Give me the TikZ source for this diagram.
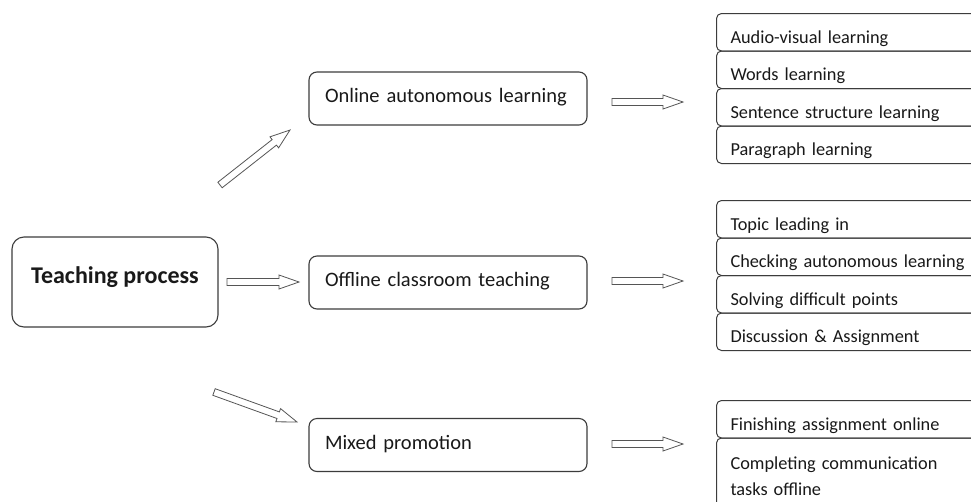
\documentclass[tikz,border=0pt]{standalone}
\usepackage{fontspec}
\setmainfont{Carlito}
\usetikzlibrary{calc}
\definecolor{boxline}{RGB}{60,60,60}
\definecolor{textcol}{RGB}{25,25,25}
\definecolor{arrowgray}{RGB}{85,85,85}
\newcommand{\blockarrow}[2]{%
  \coordinate (bah) at ($(#2)!20pt!(#1)$);
  \draw[arrowline] ($(#1)!3.5pt!90:(#2)$) -- ($(bah)!3.5pt!90:(#2)$) -- ($(bah)!7pt!90:(#2)$) -- (#2)
    -- ($(bah)!7pt!-90:(#2)$) -- ($(bah)!3.5pt!-90:(#2)$) -- ($(#1)!3.5pt!-90:(#2)$) -- cycle;}
\begin{document}
\begin{tikzpicture}[x=1pt,y=-1pt,
  mainbox/.style={draw=boxline, line width=1.1pt, rounded corners=12pt,
    minimum width=206pt, minimum height=90pt, inner sep=0pt,
    font=\fontsize{24}{29}\selectfont\bfseries, text=textcol,
    text height=13pt, text depth=11pt},
  midbox/.style={draw=boxline, line width=1.1pt, rounded corners=8pt,
    minimum width=278pt, minimum height=53pt, inner xsep=16pt, inner ysep=0pt,
    text width=246pt, align=left, font=\fontsize{20.5}{25}\selectfont, text=textcol,
    text height=14pt, text depth=6pt},
  rbase/.style={draw=boxline, line width=1pt, rounded corners=5pt, anchor=north west,
    minimum width=300pt, inner xsep=14pt, text width=272pt, align=left,
    font=\fontsize{18.3}{25.5}\selectfont, text=textcol},
  rightbox/.style={rbase, minimum height=37.5pt, inner ysep=0pt,
    text height=21.5pt, text depth=0pt},
  rightbox2/.style={rbase, inner ysep=19pt},
  arrowline/.style={draw=arrowgray, fill=white, line width=0.8pt, line join=miter}]
\useasboundingbox (0,0) rectangle (971,501);
\clip (0,0) rectangle (971,501);
\fill[white] (0,0) rectangle (971,501);

% main nodes
\node[mainbox] (tp) at (115,282) {Teaching process};
\node[midbox] (onl) at (448,98.5) {Online autonomous learning};
\node[midbox] (off) at (448,282.5) {Offline classroom teaching};
\node[midbox] (mix) at (448,445) {Mixed promotion};

% right stacks
\node[rightbox] (a1) at (716,13) {Audio-visual learning};
\node[rightbox] (a2) at (716,50.5) {Words learning};
\node[rightbox] (a3) at (716,88) {Sentence structure learning};
\node[rightbox] (a4) at (716,125.5) {Paragraph learning};

\node[rightbox] (b1) at (716,200) {Topic leading in};
\node[rightbox] (b2) at (716,237.5) {Checking autonomous learning};
\node[rightbox] (b3) at (716,275) {Solving difficult points};
\node[rightbox] (b4) at (716,312.5) {Discussion \& Assignment};

\node[rightbox] (c1) at (716,400) {Finishing assignment online};
\node[rightbox2] (c2) at (716,437.5) {Completing communication\\tasks offline};

% arrow end points
\coordinate (us) at (220,185);   \coordinate (ue) at (290,130);
\coordinate (ms) at (227,282);   \coordinate (me) at (299,282);
\coordinate (ds) at (214,392);   \coordinate (de) at (297,422);
\coordinate (r1s) at (612,102);  \coordinate (r1e) at (683,102);
\coordinate (r2s) at (612,281);  \coordinate (r2e) at (683,281);
\coordinate (r3s) at (612,444);  \coordinate (r3e) at (683,444);

\blockarrow{us}{ue}
\blockarrow{ms}{me}
\blockarrow{ds}{de}
\blockarrow{r1s}{r1e}
\blockarrow{r2s}{r2e}
\blockarrow{r3s}{r3e}
\end{tikzpicture}
\end{document}
